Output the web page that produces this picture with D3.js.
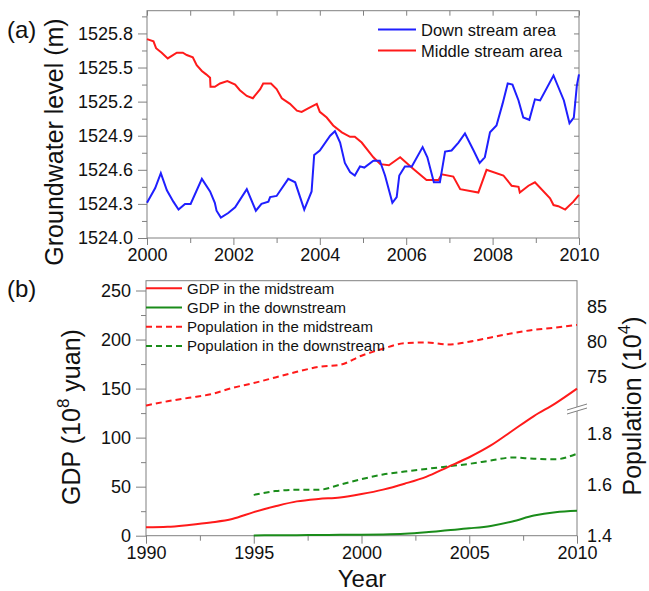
<!DOCTYPE html>
<html>
<head>
<meta charset="utf-8">
<script src="https://cdn.jsdelivr.net/npm/d3@7"></script>
<style>
  body { margin: 0; background: #fff; }
  svg { font-family: "Liberation Sans", Arial, sans-serif; }
  .axis path, .axis line { stroke: #808080; }
  .axis text { font-size: 18px; fill: #111; }
</style>
</head>
<body>
<div id="chart"></div>
<script>
// (a) groundwater level, decimal year / metres
var downYears = [2000.00,2000.19,2000.32,2000.46,2000.61,2000.73,2000.88,2001.01,2001.27,2001.46,2001.57,2001.61,2001.71,2001.88,2002.04,2002.31,2002.52,2002.65,2002.81,2002.85,2003.00,2003.27,2003.43,2003.64,2003.81,2003.87,2004.00,2004.24,2004.35,2004.47,2004.58,2004.70,2004.81,2004.93,2005.03,2005.24,2005.39,2005.51,2005.68,2005.78,2005.84,2005.97,2006.13,2006.38,2006.49,2006.64,2006.78,2006.90,2007.05,2007.21,2007.36,2007.56,2007.70,2007.82,2007.94,2008.09,2008.23,2008.35,2008.46,2008.60,2008.71,2008.85,2008.98,2009.10,2009.41,2009.65,2009.78,2009.88,2009.95,2010.00];
var downLevel = [1524.31,1524.44,1524.57,1524.42,1524.32,1524.25,1524.30,1524.30,1524.52,1524.41,1524.31,1524.24,1524.18,1524.22,1524.27,1524.43,1524.24,1524.30,1524.32,1524.36,1524.37,1524.52,1524.49,1524.25,1524.41,1524.73,1524.77,1524.90,1524.94,1524.84,1524.66,1524.58,1524.55,1524.63,1524.62,1524.68,1524.68,1524.55,1524.31,1524.36,1524.55,1524.63,1524.63,1524.80,1524.71,1524.49,1524.49,1524.76,1524.77,1524.84,1524.92,1524.77,1524.66,1524.71,1524.93,1524.99,1525.18,1525.36,1525.35,1525.21,1525.06,1525.04,1525.22,1525.21,1525.43,1525.21,1525.01,1525.06,1525.34,1525.44];
var midYears = [2000.00,2000.15,2000.21,2000.34,2000.48,2000.69,2000.83,2000.92,2001.06,2001.15,2001.27,2001.37,2001.46,2001.47,2001.57,2001.69,2001.86,2002.04,2002.15,2002.31,2002.45,2002.62,2002.69,2002.87,2003.00,2003.12,2003.31,2003.47,2003.58,2003.73,2003.93,2004.00,2004.16,2004.31,2004.51,2004.70,2004.81,2004.97,2005.24,2005.40,2005.60,2005.86,2006.16,2006.47,2006.75,2006.82,2007.09,2007.25,2007.67,2007.86,2008.25,2008.44,2008.60,2008.63,2008.83,2008.98,2009.33,2009.41,2009.52,2009.68,2009.87,2010.00];
var midLevel = [1525.75,1525.73,1525.67,1525.63,1525.58,1525.63,1525.63,1525.61,1525.59,1525.52,1525.47,1525.44,1525.41,1525.33,1525.33,1525.36,1525.38,1525.35,1525.30,1525.25,1525.23,1525.31,1525.36,1525.36,1525.31,1525.23,1525.18,1525.12,1525.11,1525.14,1525.18,1525.11,1525.06,1524.99,1524.93,1524.89,1524.89,1524.84,1524.71,1524.65,1524.64,1524.71,1524.61,1524.51,1524.51,1524.56,1524.54,1524.43,1524.40,1524.60,1524.55,1524.46,1524.45,1524.40,1524.46,1524.49,1524.35,1524.29,1524.28,1524.25,1524.32,1524.38];
var levelTicks = [1524.0, 1524.3, 1524.6, 1524.9, 1525.2, 1525.5, 1525.8];

// (b) GDP (10^8 yuan) and population (10^4)
var gdpYears = d3.range(1990, 2011);
var gdpMid = [8.5,9,11,13.5,17,24,30,35,37.5,39,42.5,47,53,60,70,80,92,107,122,135,150];
var downYearsB = d3.range(1995, 2011);
var gdpDown = [0.3,0.4,0.5,0.7,0.9,1.0,1.3,2,3.5,5.5,7.5,10,14.5,20.5,24,25.5];
var popMid = [70.9,71.5,72.0,72.5,73.4,74.1,74.9,75.7,76.4,76.7,78.0,79.0,79.8,79.9,79.6,80.0,80.6,81.2,81.7,82.0,82.4];
var popDown = [1.560,1.575,1.580,1.580,1.600,1.622,1.640,1.652,1.662,1.672,1.682,1.695,1.707,1.702,1.700,1.722];

var legendA = ["Down stream area", "Middle stream area"];
var legendB = ["GDP in the midstream", "GDP in the downstream", "Population in the midstream", "Population in the downstream"];

var RED = "#ff1a1a", BLUE = "#1f1fff", GREEN = "#1a8c1a";

var svg = d3.select("#chart").append("svg")
  .attr("width", 649)
  .attr("height", 591);

// ---------- panel (a) ----------
var xa = d3.scaleLinear().domain([2000, 2010]).range([147, 579]);
var ya = d3.scaleLinear().domain([1524.0, 1526.0]).range([238, 10.7]);

svg.append("rect")
  .attr("x", 147).attr("y", 10.7)
  .attr("width", 579 - 147).attr("height", 238 - 10.7)
  .attr("fill", "none").attr("stroke", "#808080");

// minor ticks
svg.append("g").attr("class", "axis").attr("transform", "translate(0,238)")
  .call(d3.axisBottom(xa).tickValues(d3.range(2001, 2010, 2)).tickSize(5).tickFormat(""));
svg.append("g").attr("class", "axis").attr("transform", "translate(147,0)")
  .call(d3.axisLeft(ya).tickValues(d3.range(1524.15, 1526.0, 0.3)).tickSize(5).tickFormat(""));
// mirror ticks top / right
svg.append("g").attr("class", "axis").attr("transform", "translate(0,10.7)")
  .call(d3.axisBottom(xa).ticks(10).tickSize(5).tickFormat(""));
svg.append("g").attr("class", "axis").attr("transform", "translate(579,0)")
  .call(d3.axisLeft(ya).tickValues(d3.range(1524.15, 1526.0, 0.15)).tickSize(5).tickFormat(""));
// major ticks + labels
svg.append("g").attr("class", "axis").attr("transform", "translate(0,238)")
  .call(d3.axisBottom(xa).tickValues(d3.range(2000, 2011, 2)).tickSize(7).tickPadding(3).tickFormat(d3.format("d")));
svg.append("g").attr("class", "axis").attr("transform", "translate(147,0)")
  .call(d3.axisLeft(ya).tickValues(levelTicks).tickSize(9).tickPadding(5).tickFormat(d3.format(".1f")));
svg.selectAll(".axis path.domain").remove();

var lineA = d3.line()
  .x(function(d) { return xa(d[0]); })
  .y(function(d) { return ya(d[1]); });

svg.append("path")
  .datum(d3.zip(midYears, midLevel))
  .attr("d", lineA).attr("fill", "none").attr("stroke", RED).attr("stroke-width", 2);
svg.append("path")
  .datum(d3.zip(downYears, downLevel))
  .attr("d", lineA).attr("fill", "none").attr("stroke", BLUE).attr("stroke-width", 2);

var legA = svg.append("g");
legendA.forEach(function(t, i) {
  var y = 29.5 + i * 21;
  legA.append("line").attr("x1", 378).attr("x2", 416).attr("y1", y).attr("y2", y)
    .attr("stroke", i == 0 ? BLUE : RED).attr("stroke-width", 2);
  legA.append("text").attr("x", 421).attr("y", y + 6).attr("font-size", 16.5).attr("fill", "#111").text(t);
});

svg.append("text").attr("x", 7).attr("y", 38).attr("font-size", 24).attr("fill", "#111").text("(a)");
svg.append("text")
  .attr("transform", "translate(63,142) rotate(-90)")
  .attr("text-anchor", "middle").attr("font-size", 25).attr("fill", "#111")
  .text("Groundwater level (m)");

// ---------- panel (b) ----------
var xb = d3.scaleLinear().domain([1990, 2010]).range([146, 577]);
var yb = d3.scaleLinear().domain([0, 260]).range([535.7, 280.7]);
var yPopHi = d3.scaleLinear().domain([70.5, 88.7]).range([408.3, 280.7]);
var yPopLo = d3.scaleLinear().domain([1.4, 1.9]).range([535.7, 408.3]);

svg.append("rect")
  .attr("x", 146).attr("y", 280.7)
  .attr("width", 577 - 146).attr("height", 535.7 - 280.7)
  .attr("fill", "none").attr("stroke", "#808080");

svg.append("g").attr("class", "axis").attr("transform", "translate(0,535.7)")
  .call(d3.axisBottom(xb).tickValues([1992.5, 1997.5, 2002.5, 2007.5]).tickSize(5).tickFormat(""));
svg.append("g").attr("class", "axis").attr("transform", "translate(146,0)")
  .call(d3.axisLeft(yb).tickValues([25, 75, 125, 175, 225]).tickSize(5).tickFormat(""));
svg.append("g").attr("class", "axis b-x").attr("transform", "translate(0,535.7)")
  .call(d3.axisBottom(xb).tickValues(d3.range(1990, 2011, 5)).tickSize(8).tickPadding(3).tickFormat(d3.format("d")));
svg.append("g").attr("class", "axis").attr("transform", "translate(146,0)")
  .call(d3.axisLeft(yb).tickValues(d3.range(0, 251, 50)).tickSize(10).tickPadding(5));
svg.append("g").attr("class", "axis").attr("transform", "translate(577,0)")
  .call(d3.axisRight(yPopHi).tickValues([75, 80, 85]).tickSize(0).tickPadding(10));
svg.append("g").attr("class", "axis").attr("transform", "translate(577,0)")
  .call(d3.axisRight(yPopLo).tickValues([1.4, 1.6, 1.8]).tickSize(0).tickPadding(10).tickFormat(d3.format(".1f")));
svg.selectAll(".axis path.domain").remove();

var lineGdp = d3.line().curve(d3.curveMonotoneX)
  .x(function(d) { return xb(d[0]); })
  .y(function(d) { return yb(d[1]); });
var linePopHi = d3.line().curve(d3.curveMonotoneX)
  .x(function(d) { return xb(d[0]); })
  .y(function(d) { return yPopHi(d[1]); });
var linePopLo = d3.line().curve(d3.curveMonotoneX)
  .x(function(d) { return xb(d[0]); })
  .y(function(d) { return yPopLo(d[1]); });

svg.append("path").datum(d3.zip(gdpYears, popMid)).attr("d", linePopHi)
  .attr("fill", "none").attr("stroke", RED).attr("stroke-width", 2).attr("stroke-dasharray", "6,4");
svg.append("path").datum(d3.zip(downYearsB, popDown)).attr("d", linePopLo)
  .attr("fill", "none").attr("stroke", GREEN).attr("stroke-width", 2).attr("stroke-dasharray", "6,4");
svg.append("path").datum(d3.zip(gdpYears, gdpMid)).attr("d", lineGdp)
  .attr("fill", "none").attr("stroke", RED).attr("stroke-width", 2);
svg.append("path").datum(d3.zip(downYearsB, gdpDown)).attr("d", lineGdp)
  .attr("fill", "none").attr("stroke", GREEN).attr("stroke-width", 2);

// axis break on the right
var brk = svg.append("g");
brk.append("polygon").attr("points", "567,410 587,404 587,408 567,414").attr("fill", "#fff");
brk.append("line").attr("x1", 567).attr("y1", 410).attr("x2", 587).attr("y2", 404).attr("stroke", "#808080");
brk.append("line").attr("x1", 567).attr("y1", 414).attr("x2", 587).attr("y2", 408).attr("stroke", "#808080");

var legB = svg.append("g");
legendB.forEach(function(t, i) {
  var y = 288.3 + i * 19.2;
  legB.append("line").attr("x1", 146).attr("x2", 182).attr("y1", y).attr("y2", y)
    .attr("stroke", i % 2 == 0 ? RED : GREEN).attr("stroke-width", 2)
    .attr("stroke-dasharray", i < 2 ? null : "6,4");
  legB.append("text").attr("x", 187).attr("y", y + 5.5).attr("font-size", 15).attr("fill", "#111").text(t);
});

svg.append("text").attr("x", 7).attr("y", 297).attr("font-size", 24).attr("fill", "#111").text("(b)");

var gdpTitle = svg.append("text")
  .attr("transform", "translate(80,417) rotate(-90)")
  .attr("text-anchor", "middle").attr("font-size", 25).attr("fill", "#111");
gdpTitle.append("tspan").text("GDP (10");
gdpTitle.append("tspan").attr("font-size", 17).attr("dy", -11).text("8");
gdpTitle.append("tspan").attr("dy", 11).text(" yuan)");

var popTitle = svg.append("text")
  .attr("transform", "translate(641,406) rotate(-90)")
  .attr("text-anchor", "middle").attr("font-size", 25).attr("fill", "#111");
popTitle.append("tspan").text("Population (10");
popTitle.append("tspan").attr("font-size", 17).attr("dy", -11).text("4");
popTitle.append("tspan").attr("dy", 11).text(")");

svg.append("text").attr("x", 362).attr("y", 587).attr("text-anchor", "middle")
  .attr("font-size", 24).attr("fill", "#111").text("Year");
</script>
</body>
</html>
